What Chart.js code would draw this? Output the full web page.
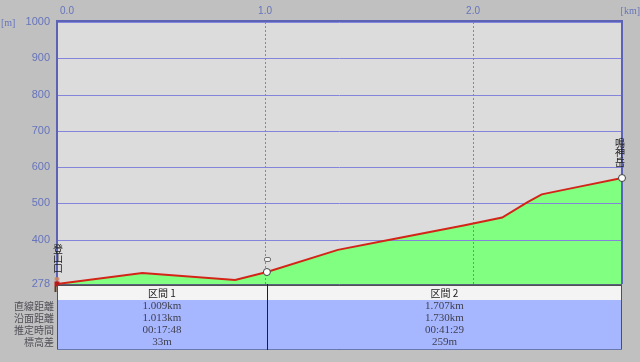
<!DOCTYPE html>
<html><head><meta charset="utf-8">
<script src="https://cdn.jsdelivr.net/npm/chart.js@4"></script>
<style>html,body{margin:0;padding:0;background:#c0c0c0;}canvas{display:block}</style>
</head><body>
<div style="width:640px;height:362px;position:relative"><canvas id="c" width="640" height="362"></canvas></div>
<script>
// ---- data ----
const distanceKm = [0, 0.41, 0.856, 1.009, 1.35, 1.6, 1.96, 2.14, 2.26, 2.33, 2.5, 2.716];
const elevationM = [278, 308, 289, 311, 372, 400, 440, 461, 503, 525, 545, 570];
const yTickValues = [278, 400, 500, 600, 700, 800, 900, 1000];
const xTickValues = [0, 1, 2];
const xTickLabels = ['0.0', '1.0', '2.0'];
const waypointIndex = [0, 3, 11];
const waypointNames = ['登山口', '', '鳴神岳'];
const sectionEndKm = [1.009, 2.716];
const sectionNames = ['区間 1', '区間 2'];
const rowLabels = ['直線距離', '沿面距離', '推定時間', '標高差'];
const straightDist = ['1.009km', '1.707km'];
const surfaceDist = ['1.013km', '1.730km'];
const estTime = ['00:17:48', '00:41:29'];
const elevDiff = ['33m', '259m'];
const rowValues = [straightDist, surfaceDist, estTime, elevDiff];

// hiker icon for the start point
const hiker = document.createElement('canvas');
hiker.width = 9; hiker.height = 15;
(function(){
  const g = hiker.getContext('2d');
  g.fillStyle = '#c88060'; g.beginPath(); g.arc(4.5, 2.5, 2.2, 0, Math.PI*2); g.fill();
  g.fillStyle = '#b81818'; g.fillRect(2, 5, 5, 5);
  g.fillStyle = '#5a3a20'; g.fillRect(2, 10, 2, 5); g.fillRect(5, 10, 2, 5);
})();

const pointRadius = distanceKm.map((_, i) => waypointIndex.includes(i) ? (i === 0 ? 6 : 3.5) : 0);
const pointStyle = distanceKm.map((_, i) => i === 0 ? hiker : 'circle');

const BLUE_TXT = '#6674bc';
const deco = {
  id: 'deco',
  beforeDraw(chart) {
    const {ctx, chartArea: a} = chart;
    ctx.save();
    ctx.fillStyle = '#dcdcdc';
    ctx.fillRect(a.left, a.top, a.right - a.left, a.bottom - a.top);
    ctx.restore();
  },
  beforeDatasetDraw(chart) {
    const {ctx, chartArea: a, scales: {x, y}} = chart;
    ctx.save();
    ctx.strokeStyle = '#8484da'; ctx.lineWidth = 1;
    yTickValues.forEach(v => {
      if (v === y.min) return;
      const py = Math.round(y.getPixelForValue(v)) + 0.5;
      ctx.beginPath(); ctx.moveTo(a.left, py); ctx.lineTo(a.right, py); ctx.stroke();
    });
    ctx.strokeStyle = '#7a82c8'; ctx.setLineDash([2, 2]);
    xTickValues.forEach(v => {
      if (v === x.min) return;
      const px = Math.round(x.getPixelForValue(v)) + 0.5;
      ctx.beginPath(); ctx.moveTo(px, a.top); ctx.lineTo(px, a.bottom); ctx.stroke();
    });
    ctx.setLineDash([]);
    ctx.strokeStyle = '#5c62b4'; ctx.lineWidth = 2;
    ctx.beginPath(); ctx.moveTo(a.left, a.bottom); ctx.lineTo(a.left, a.top - 1); ctx.lineTo(a.right, a.top - 1); ctx.lineTo(a.right, a.bottom); ctx.stroke();
    ctx.strokeStyle = '#5a6080'; ctx.lineWidth = 1;
    ctx.beginPath(); ctx.moveTo(a.left, a.bottom + 0.5); ctx.lineTo(a.right, a.bottom + 0.5); ctx.stroke();
    ctx.restore();
  },
  afterDraw(chart) {
    const {ctx, chartArea: a, scales: {x, y}} = chart;
    ctx.save();
    ctx.fillStyle = BLUE_TXT;
    ctx.font = '11px "Liberation Sans", Arial, sans-serif';
    ctx.textBaseline = 'middle';
    ctx.textAlign = 'right';
    yTickValues.forEach(v => ctx.fillText(String(v), a.left - 7, y.getPixelForValue(v)));
    ctx.font = '10px "Liberation Sans", Arial, sans-serif';
    ctx.textAlign = 'center';
    xTickValues.forEach((v, i) => {
      const px = Math.max(x.getPixelForValue(v), a.left + 10);
      ctx.fillText(xTickLabels[i], px, 11);
    });
    ctx.font = '10px "Liberation Serif", serif';
    ctx.textAlign = 'left';
    ctx.fillText('[m]', 1, 23);
    ctx.textAlign = 'right';
    ctx.fillText('[km]', 640, 11);

    ctx.fillStyle = '#202020';
    ctx.font = '10px "Noto Sans CJK JP", sans-serif';
    ctx.textAlign = 'center';
    waypointIndex.forEach((idx, k) => {
      const name = waypointNames[k];
      const px = x.getPixelForValue(distanceKm[idx]);
      const py = y.getPixelForValue(elevationM[idx]);
      if (!name) {
        ctx.strokeStyle = '#707070'; ctx.lineWidth = 1; ctx.fillStyle = '#f0f0f0';
        ctx.beginPath(); ctx.roundRect(Math.round(px) - 2.5, Math.round(py) - 14.5, 6, 4, 1.5); ctx.fill(); ctx.stroke();
        ctx.fillStyle = '#202020';
        return;
      }
      const chars = Array.from(name);
      const cx = k === 0 ? px + 1 : px - 2;
      chars.forEach((ch, j) => {
        ctx.fillText(ch, cx, py - 16 - (chars.length - 1 - j) * 9.5);
      });
    });

    const t0 = a.bottom + 1, hH = 15, rowH = 12, bodyTop = t0 + hH, bodyH = 50;
    ctx.fillStyle = '#f4f4f4';
    ctx.fillRect(a.left, t0, a.right - a.left, hH);
    ctx.fillStyle = '#a6b6ff';
    ctx.fillRect(a.left, bodyTop, a.right - a.left, bodyH);
    ctx.strokeStyle = '#505050'; ctx.lineWidth = 1;
    ctx.strokeRect(a.left + 0.5, t0 + 0.5, a.right - a.left - 1, hH + bodyH - 1);
    ctx.strokeStyle = '#6a78b0';
    ctx.beginPath(); ctx.moveTo(a.left, bodyTop + bodyH - 0.5); ctx.lineTo(a.right, bodyTop + bodyH - 0.5); ctx.stroke();
    let prev = 0;
    sectionEndKm.forEach((end, s) => {
      const x0 = x.getPixelForValue(prev), x1 = x.getPixelForValue(end);
      const cx = (x0 + x1) / 2;
      if (s < sectionEndKm.length - 1) {
        ctx.strokeStyle = '#202020';
        ctx.beginPath(); ctx.moveTo(Math.round(x1) + 0.5, a.bottom); ctx.lineTo(Math.round(x1) + 0.5, bodyTop + bodyH); ctx.stroke();
      }
      ctx.fillStyle = '#202020';
      ctx.font = '10px "Noto Sans CJK JP", sans-serif';
      ctx.textAlign = 'center';
      ctx.fillText(sectionNames[s], cx, t0 + hH / 2 + 0.5);
      ctx.fillStyle = '#404050';
      ctx.font = '11px "Liberation Serif", serif';
      rowValues.forEach((vals, r) => ctx.fillText(vals[s], cx, bodyTop + 6.5 + r * rowH));
      prev = end;
    });
    ctx.fillStyle = '#505058';
    ctx.font = '10px "Noto Sans CJK JP", sans-serif';
    ctx.textAlign = 'right';
    rowLabels.forEach((lab, r) => ctx.fillText(lab, a.left - 3, bodyTop + 6.5 + r * rowH));
    ctx.restore();
  }
};

new Chart(document.getElementById('c'), {
  type: 'line',
  data: {
    datasets: [{
      data: distanceKm.map((d, i) => ({x: d, y: elevationM[i]})),
      borderColor: '#d42418',
      borderWidth: 2,
      backgroundColor: '#80ff80',
      fill: 'start',
      tension: 0,
      clip: false,
      pointRadius: pointRadius,
      pointStyle: pointStyle,
      pointBackgroundColor: '#ffffff',
      pointBorderColor: '#404040',
      pointBorderWidth: 1
    }]
  },
  options: {
    responsive: false,
    animation: false,
    events: [],
    layout: {padding: {left: 57, right: 18, top: 22, bottom: 78}},
    plugins: {legend: {display: false}, tooltip: {enabled: false}},
    scales: {
      x: {type: 'linear', min: 0, max: 2.716, display: false},
      y: {min: 278, max: 1000, display: false}
    }
  },
  plugins: [deco]
});
</script>
</body></html>
